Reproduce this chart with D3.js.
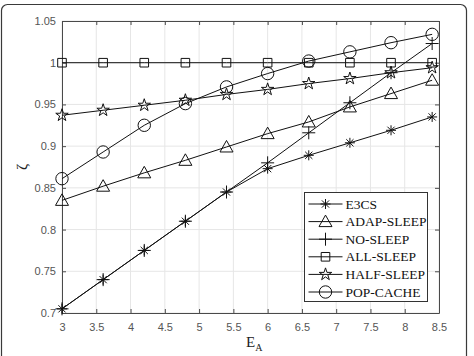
<!DOCTYPE html>
<html>
<head>
<meta charset="utf-8">
<script src="https://cdn.jsdelivr.net/npm/d3@7"></script>
<style>
  html, body { margin: 0; padding: 0; background: #fff; }
  svg { display: block; }
</style>
</head>
<body>
<div id="chart"></div>
<script>
// ---- data ----
const xValues = [3, 3.6, 4.2, 4.8, 5.4, 6.0, 6.6, 7.2, 7.8, 8.4];
const e3cs      = [0.705, 0.740, 0.775, 0.810, 0.845, 0.873, 0.889, 0.904, 0.919, 0.935];
const adapSleep = [0.835, 0.852, 0.868, 0.883, 0.899, 0.915, 0.929, 0.947, 0.963, 0.979];
const noSleep   = [0.705, 0.740, 0.775, 0.810, 0.845, 0.880, 0.916, 0.952, 0.988, 1.023];
const allSleep  = [1, 1, 1, 1, 1, 1, 1, 1, 1, 1];
const halfSleep = [0.937, 0.943, 0.949, 0.955, 0.962, 0.968, 0.975, 0.981, 0.988, 0.994];
const popCache  = [0.861, 0.893, 0.925, 0.951, 0.971, 0.987, 1.002, 1.013, 1.024, 1.034];
const seriesNames = ["E3CS", "ADAP-SLEEP", "NO-SLEEP", "ALL-SLEEP", "HALF-SLEEP", "POP-CACHE"];
const xTicks = [3, 3.5, 4, 4.5, 5, 5.5, 6, 6.5, 7, 7.5, 8, 8.5];
const yTicks = [0.7, 0.75, 0.8, 0.85, 0.9, 0.95, 1, 1.05];

const W = 474, H = 356;
const m = { left: 62, right: 35, top: 21, bottom: 43 };
const serif = "'Liberation Serif', 'Times New Roman', Times, serif";

const svg = d3.select("#chart").append("svg")
  .attr("width", W).attr("height", H);

// outer rounded frame
svg.append("rect")
  .attr("x", 1.5).attr("y", 4.5)
  .attr("width", 465).attr("height", 370)
  .attr("rx", 6)
  .attr("fill", "none").attr("stroke", "#3a3a3a").attr("stroke-width", 1.2);

const x = d3.scaleLinear().domain([3, 8.5]).range([m.left, W - m.right]);
const y = d3.scaleLinear().domain([0.7, 1.05]).range([H - m.bottom, m.top]);

// grid
const grid = svg.append("g");
grid.selectAll(".gx").data(xTicks).join("line")
  .attr("x1", d => x(d)).attr("x2", d => x(d))
  .attr("y1", y(0.7)).attr("y2", y(1.05))
  .attr("stroke", "#e6e6e6").attr("stroke-width", 1);
grid.selectAll(".gy").data(yTicks).join("line")
  .attr("x1", x(3)).attr("x2", x(8.5))
  .attr("y1", d => y(d)).attr("y2", d => y(d))
  .attr("stroke", "#e6e6e6").attr("stroke-width", 1);

// axes (MATLAB style: ticks inside, box on)
const axisColor = "#4a4a4a";
function styleAxis(g, showText) {
  g.select(".domain").attr("stroke", axisColor);
  g.selectAll(".tick line").attr("stroke", axisColor);
  g.selectAll(".tick text")
    .attr("fill", "#555")
    .style("font-family", "'Liberation Sans', Arial, sans-serif")
    .style("font-size", "11px")
    .style("display", showText ? null : "none");
}
svg.append("g").attr("transform", `translate(0,${y(0.7)})`)
  .call(d3.axisBottom(x).tickValues(xTicks).tickFormat(d3.format("~g"))
    .tickSizeInner(-4).tickSizeOuter(0).tickPadding(10))
  .call(g => styleAxis(g, true));
svg.append("g").attr("transform", `translate(0,${y(1.05)})`)
  .call(d3.axisTop(x).tickValues(xTicks).tickSizeInner(-4).tickSizeOuter(0))
  .call(g => styleAxis(g, false));
svg.append("g").attr("transform", `translate(${x(3)},0)`)
  .call(d3.axisLeft(y).tickValues(yTicks).tickFormat(d3.format("~g"))
    .tickSizeInner(-4).tickSizeOuter(0).tickPadding(6))
  .call(g => styleAxis(g, true));
svg.append("g").attr("transform", `translate(${x(8.5)},0)`)
  .call(d3.axisRight(y).tickValues(yTicks).tickSizeInner(-4).tickSizeOuter(0))
  .call(g => styleAxis(g, false));

// marker shapes
const markers = {
  asterisk: "M-5,0H5M0,-5V5M-3.6,-3.6L3.6,3.6M-3.6,3.6L3.6,-3.6",
  triangle: "M0,-6.5L6.5,5L-6.5,5Z",
  plus: "M-6.5,0H6.5M0,-6.5V6.5",
  square: "M-4.3,-4.3H4.3V4.3H-4.3Z",
  star: d3.symbol(d3.symbolStar, 48)(),
  circle: "M6.2,0A6.2,6.2 0 1,1 -6.2,0A6.2,6.2 0 1,1 6.2,0Z"
};
const series = [
  { name: seriesNames[0], values: e3cs, marker: markers.asterisk },
  { name: seriesNames[1], values: adapSleep, marker: markers.triangle },
  { name: seriesNames[2], values: noSleep, marker: markers.plus },
  { name: seriesNames[3], values: allSleep, marker: markers.square },
  { name: seriesNames[4], values: halfSleep, marker: markers.star },
  { name: seriesNames[5], values: popCache, marker: markers.circle }
];

const line = d3.line().x(d => x(d[0])).y(d => y(d[1]));
const plot = svg.append("g");
series.forEach(s => {
  const pts = xValues.map((xv, i) => [xv, s.values[i]]);
  plot.append("path").datum(pts)
    .attr("d", line)
    .attr("fill", "none").attr("stroke", "#111").attr("stroke-width", 1);
  plot.selectAll(null).data(pts).join("path")
    .attr("transform", d => `translate(${x(d[0])},${y(d[1])})`)
    .attr("d", s.marker)
    .attr("fill", "none").attr("stroke", "#111").attr("stroke-width", 1);
});

// legend
const lg = svg.append("g").attr("transform", "translate(304.5,192.5)");
lg.append("rect").attr("width", 123).attr("height", 109)
  .attr("fill", "#fff").attr("stroke", "#333").attr("stroke-width", 1);
series.forEach((s, i) => {
  const yy = 11.5 + i * 17.6;
  lg.append("line").attr("x1", 4).attr("x2", 38).attr("y1", yy).attr("y2", yy)
    .attr("stroke", "#111").attr("stroke-width", 1);
  lg.append("path").attr("transform", `translate(21,${yy})`).attr("d", s.marker)
    .attr("fill", "none").attr("stroke", "#111").attr("stroke-width", 1);
  lg.append("text").attr("x", 41).attr("y", yy + 4.5)
    .text(s.name)
    .style("font-family", serif)
    .style("font-weight", "normal")
    .style("font-size", "13.5px").attr("fill", "#111");
});

// axis labels
const xl = svg.append("text").attr("x", 246).attr("y", 347)
  .style("font-family", serif)
  .style("font-size", "15px").attr("fill", "#222");
xl.append("tspan").text("E");
xl.append("tspan").attr("dy", 4).style("font-size", "10px").text("A");

svg.append("text")
  .attr("transform", "translate(27,167) rotate(-90)")
  .attr("text-anchor", "middle")
  .style("font-family", serif)
  .style("font-size", "15px").attr("fill", "#222")
  .text("ζ");
</script>
</body>
</html>
